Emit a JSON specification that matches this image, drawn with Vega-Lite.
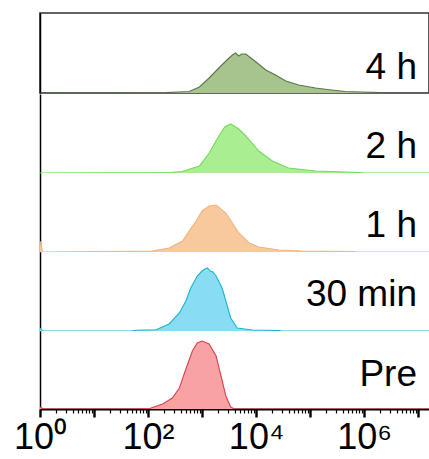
{
  "$schema": "https://vega.github.io/schema/vega-lite/v6.json",
  "padding": {"left": 13, "top": 12, "right": 0, "bottom": 2},
  "background": "white",
  "config": {
    "view": {"stroke": null},
    "axis": {"grid": false},
    "font": "Liberation Sans"
  },
  "spacing": 0,
  "datasets": {
    "hist": [
      {"sample": "Pre", "intensity": 1, "count": 2},
      {"sample": "Pre", "intensity": 1.15, "count": 0},
      {"sample": "Pre", "intensity": 50, "count": 0},
      {"sample": "Pre", "intensity": 107, "count": 0.5},
      {"sample": "Pre", "intensity": 186, "count": 5},
      {"sample": "Pre", "intensity": 282, "count": 11},
      {"sample": "Pre", "intensity": 380, "count": 21},
      {"sample": "Pre", "intensity": 501, "count": 40},
      {"sample": "Pre", "intensity": 661, "count": 58},
      {"sample": "Pre", "intensity": 813, "count": 66},
      {"sample": "Pre", "intensity": 1000, "count": 68},
      {"sample": "Pre", "intensity": 1349, "count": 65},
      {"sample": "Pre", "intensity": 1820, "count": 53},
      {"sample": "Pre", "intensity": 2239, "count": 33},
      {"sample": "Pre", "intensity": 2754, "count": 13},
      {"sample": "Pre", "intensity": 3388, "count": 2},
      {"sample": "Pre", "intensity": 3981, "count": 0},
      {"sample": "Pre", "intensity": 15848932, "count": 0},

      {"sample": "30 min", "intensity": 1, "count": 3},
      {"sample": "30 min", "intensity": 1.12, "count": 0},
      {"sample": "30 min", "intensity": 50, "count": 0},
      {"sample": "30 min", "intensity": 60, "count": 0.7},
      {"sample": "30 min", "intensity": 141, "count": 1.3},
      {"sample": "30 min", "intensity": 245, "count": 7},
      {"sample": "30 min", "intensity": 380, "count": 18},
      {"sample": "30 min", "intensity": 501, "count": 30},
      {"sample": "30 min", "intensity": 617, "count": 43},
      {"sample": "30 min", "intensity": 813, "count": 55},
      {"sample": "30 min", "intensity": 1000, "count": 60},
      {"sample": "30 min", "intensity": 1122, "count": 62},
      {"sample": "30 min", "intensity": 1259, "count": 63},
      {"sample": "30 min", "intensity": 1413, "count": 60},
      {"sample": "30 min", "intensity": 1585, "count": 59},
      {"sample": "30 min", "intensity": 1820, "count": 55},
      {"sample": "30 min", "intensity": 2344, "count": 43},
      {"sample": "30 min", "intensity": 2754, "count": 30},
      {"sample": "30 min", "intensity": 3388, "count": 13},
      {"sample": "30 min", "intensity": 4467, "count": 3},
      {"sample": "30 min", "intensity": 8511, "count": 1},
      {"sample": "30 min", "intensity": 26303, "count": 0.5},
      {"sample": "30 min", "intensity": 30000, "count": 0},
      {"sample": "30 min", "intensity": 15848932, "count": 0},

      {"sample": "1 h", "intensity": 1, "count": 11},
      {"sample": "1 h", "intensity": 1.05, "count": 6},
      {"sample": "1 h", "intensity": 1.12, "count": 0},
      {"sample": "1 h", "intensity": 50, "count": 0.7},
      {"sample": "1 h", "intensity": 120, "count": 1},
      {"sample": "1 h", "intensity": 245, "count": 4},
      {"sample": "1 h", "intensity": 437, "count": 11},
      {"sample": "1 h", "intensity": 575, "count": 21},
      {"sample": "1 h", "intensity": 776, "count": 31},
      {"sample": "1 h", "intensity": 1000, "count": 41},
      {"sample": "1 h", "intensity": 1349, "count": 46},
      {"sample": "1 h", "intensity": 1820, "count": 47},
      {"sample": "1 h", "intensity": 2754, "count": 39},
      {"sample": "1 h", "intensity": 3631, "count": 29},
      {"sample": "1 h", "intensity": 4786, "count": 19},
      {"sample": "1 h", "intensity": 7413, "count": 9},
      {"sample": "1 h", "intensity": 11220, "count": 5},
      {"sample": "1 h", "intensity": 26303, "count": 2},
      {"sample": "1 h", "intensity": 70795, "count": 1},
      {"sample": "1 h", "intensity": 630957, "count": 0.5},
      {"sample": "1 h", "intensity": 700000, "count": 0},
      {"sample": "1 h", "intensity": 15848932, "count": 0},

      {"sample": "2 h", "intensity": 1, "count": 0},
      {"sample": "2 h", "intensity": 251, "count": 0.5},
      {"sample": "2 h", "intensity": 427, "count": 1.5},
      {"sample": "2 h", "intensity": 891, "count": 7},
      {"sample": "2 h", "intensity": 1349, "count": 20},
      {"sample": "2 h", "intensity": 2042, "count": 37},
      {"sample": "2 h", "intensity": 2630, "count": 46},
      {"sample": "2 h", "intensity": 3388, "count": 49},
      {"sample": "2 h", "intensity": 4786, "count": 44},
      {"sample": "2 h", "intensity": 6457, "count": 37},
      {"sample": "2 h", "intensity": 11220, "count": 22},
      {"sample": "2 h", "intensity": 19953, "count": 12},
      {"sample": "2 h", "intensity": 39811, "count": 5},
      {"sample": "2 h", "intensity": 125893, "count": 2},
      {"sample": "2 h", "intensity": 794328, "count": 0.5},
      {"sample": "2 h", "intensity": 1000000, "count": 0},
      {"sample": "2 h", "intensity": 15848932, "count": 0},

      {"sample": "4 h", "intensity": 1, "count": 0},
      {"sample": "4 h", "intensity": 219, "count": 0.5},
      {"sample": "4 h", "intensity": 575, "count": 1.5},
      {"sample": "4 h", "intensity": 891, "count": 6},
      {"sample": "4 h", "intensity": 1349, "count": 15},
      {"sample": "4 h", "intensity": 2042, "count": 25},
      {"sample": "4 h", "intensity": 2884, "count": 33},
      {"sample": "4 h", "intensity": 3631, "count": 38},
      {"sample": "4 h", "intensity": 4169, "count": 40},
      {"sample": "4 h", "intensity": 4786, "count": 37},
      {"sample": "4 h", "intensity": 5370, "count": 39},
      {"sample": "4 h", "intensity": 6457, "count": 39},
      {"sample": "4 h", "intensity": 8000, "count": 35},
      {"sample": "4 h", "intensity": 10000, "count": 31},
      {"sample": "4 h", "intensity": 15136, "count": 23},
      {"sample": "4 h", "intensity": 22909, "count": 18},
      {"sample": "4 h", "intensity": 35481, "count": 12},
      {"sample": "4 h", "intensity": 61660, "count": 8},
      {"sample": "4 h", "intensity": 125893, "count": 5},
      {"sample": "4 h", "intensity": 251189, "count": 3},
      {"sample": "4 h", "intensity": 446684, "count": 1.5},
      {"sample": "4 h", "intensity": 1995262, "count": 0.5},
      {"sample": "4 h", "intensity": 2200000, "count": 0},
      {"sample": "4 h", "intensity": 15848932, "count": 0}
    ]
  },
  "vconcat": [
    {
      "width": 389, "height": 80,
      "view": {"stroke": "#333333", "strokeWidth": 1.6},
      "layer": [
        {
          "data": {"name": "hist"},
          "transform": [{"filter": "datum.sample === '4 h'"}],
          "mark": {"type": "area", "color": "#a8c48d", "clip": true},
          "encoding": {
            "x": {"field": "intensity", "type": "quantitative", "scale": {"type": "log", "domain": [1, 15848932], "nice": false}, "axis": null},
            "y": {"field": "count", "type": "quantitative", "scale": {"domain": [0, 80], "nice": false},
                  "axis": {"labels": false, "ticks": false, "title": null, "domainColor": "black", "domainWidth": 1.5}}
          }
        },
        {
          "data": {"name": "hist"},
          "transform": [{"filter": "datum.sample === '4 h'"}],
          "mark": {"type": "line", "color": "#46643a", "strokeWidth": 1.1, "strokeOpacity": 0.85, "clip": true},
          "encoding": {
            "x": {"field": "intensity", "type": "quantitative"},
            "y": {"field": "count", "type": "quantitative"}
          }
        },
        {
          "data": {"values": [{"label": "4 h"}]},
          "mark": {"type": "text", "align": "right", "baseline": "alphabetic", "fontSize": 37, "color": "black"},
          "encoding": {"text": {"field": "label"}, "x": {"datum": 9500000}, "y": {"datum": 14}}
        }
      ]
    },
    {
      "width": 389, "height": 79,
      "layer": [
        {
          "data": {"name": "hist"},
          "transform": [{"filter": "datum.sample === '2 h'"}],
          "mark": {"type": "area", "color": "#a9ee90", "clip": true},
          "encoding": {
            "x": {"field": "intensity", "type": "quantitative", "scale": {"type": "log", "domain": [1, 15848932], "nice": false}, "axis": null},
            "y": {"field": "count", "type": "quantitative", "scale": {"domain": [0, 79], "nice": false},
                  "axis": {"labels": false, "ticks": false, "title": null, "domainColor": "black", "domainWidth": 1.5}}
          }
        },
        {
          "data": {"name": "hist"},
          "transform": [{"filter": "datum.sample === '2 h'"}],
          "mark": {"type": "line", "color": "#74d95f", "strokeWidth": 1.1, "clip": true},
          "encoding": {
            "x": {"field": "intensity", "type": "quantitative"},
            "y": {"field": "count", "type": "quantitative"}
          }
        },
        {
          "data": {"values": [{"label": "2 h"}]},
          "mark": {"type": "text", "align": "right", "baseline": "alphabetic", "fontSize": 37, "color": "black"},
          "encoding": {"text": {"field": "label"}, "x": {"datum": 9500000}, "y": {"datum": 15}}
        }
      ]
    },
    {
      "width": 389, "height": 79,
      "layer": [
        {
          "data": {"name": "hist"},
          "transform": [{"filter": "datum.sample === '1 h'"}],
          "mark": {"type": "area", "color": "#f8c99c", "clip": true},
          "encoding": {
            "x": {"field": "intensity", "type": "quantitative", "scale": {"type": "log", "domain": [1, 15848932], "nice": false}, "axis": null},
            "y": {"field": "count", "type": "quantitative", "scale": {"domain": [0, 79], "nice": false},
                  "axis": {"labels": false, "ticks": false, "title": null, "domainColor": "black", "domainWidth": 1.5}}
          }
        },
        {
          "data": {"name": "hist"},
          "transform": [{"filter": "datum.sample === '1 h'"}],
          "mark": {"type": "line", "color": "#efb47c", "strokeWidth": 1.1, "clip": true},
          "encoding": {
            "x": {"field": "intensity", "type": "quantitative"},
            "y": {"field": "count", "type": "quantitative"}
          }
        },
        {
          "data": {"values": [{"label": "1 h"}]},
          "mark": {"type": "text", "align": "right", "baseline": "alphabetic", "fontSize": 37, "color": "black"},
          "encoding": {"text": {"field": "label"}, "x": {"datum": 9500000}, "y": {"datum": 15}}
        }
      ]
    },
    {
      "width": 389, "height": 79,
      "layer": [
        {
          "data": {"name": "hist"},
          "transform": [{"filter": "datum.sample === '30 min'"}],
          "mark": {"type": "area", "color": "#88dcf4", "clip": true},
          "encoding": {
            "x": {"field": "intensity", "type": "quantitative", "scale": {"type": "log", "domain": [1, 15848932], "nice": false}, "axis": null},
            "y": {"field": "count", "type": "quantitative", "scale": {"domain": [0, 79], "nice": false},
                  "axis": {"labels": false, "ticks": false, "title": null, "domainColor": "black", "domainWidth": 1.5}}
          }
        },
        {
          "data": {"name": "hist"},
          "transform": [{"filter": "datum.sample === '30 min'"}],
          "mark": {"type": "line", "color": "#1db4ca", "strokeWidth": 1.1, "clip": true},
          "encoding": {
            "x": {"field": "intensity", "type": "quantitative"},
            "y": {"field": "count", "type": "quantitative"}
          }
        },
        {
          "data": {"values": [{"label": "30 min"}]},
          "mark": {"type": "text", "align": "right", "baseline": "alphabetic", "fontSize": 37, "color": "black"},
          "encoding": {"text": {"field": "label"}, "x": {"datum": 9500000}, "y": {"datum": 25}}
        }
      ]
    },
    {
      "width": 389, "height": 78,
      "layer": [
        {
          "data": {"name": "hist"},
          "transform": [{"filter": "datum.sample === 'Pre'"}],
          "mark": {"type": "area", "color": "#f8a2a4", "clip": true},
          "encoding": {
            "x": {"field": "intensity", "type": "quantitative", "scale": {"type": "log", "domain": [1, 15848932], "nice": false},
                  "axis": {
                    "orient": "bottom", "title": null,
                    "values": [1,2,3,4,5,6,7,8,9,10,20,30,40,50,60,70,80,90,100,200,300,400,500,600,700,800,900,1000,2000,3000,4000,5000,6000,7000,8000,9000,10000,20000,30000,40000,50000,60000,70000,80000,90000,100000,200000,300000,400000,500000,600000,700000,800000,900000,1000000,2000000,3000000,4000000,5000000,6000000,7000000,8000000,9000000,10000000],
                    "labelExpr": "datum.value == 1 ? '10⁰' : datum.value == 100 ? '10²' : datum.value == 10000 ? '10⁴' : datum.value == 1000000 ? '10⁶' : ''",
                    "labelFontSize": 36, "labelColor": "black", "labelPadding": 3, "labelFont": "Liberation Sans",
                    "labelOverlap": false, "labelFlush": false, "labelBound": false,
                    "tickColor": "black",
                    "tickSize": {"condition": {"test": "abs(log(datum.value)/LN10 - round(log(datum.value)/LN10)) < 0.000001", "value": 8}, "value": 4},
                    "tickWidth": {"condition": {"test": "abs(log(datum.value)/LN10 - round(log(datum.value)/LN10)) < 0.000001", "value": 2.4}, "value": 1.2},
                    "domainColor": "black", "domainWidth": 2
                  }},
            "y": {"field": "count", "type": "quantitative", "scale": {"domain": [0, 78], "nice": false},
                  "axis": {"labels": false, "ticks": false, "title": null, "domainColor": "black", "domainWidth": 1.5}}
          }
        },
        {
          "data": {"name": "hist"},
          "transform": [{"filter": "datum.sample === 'Pre'"}],
          "mark": {"type": "line", "color": "#dd4050", "strokeWidth": 1.1, "clip": true},
          "encoding": {
            "x": {"field": "intensity", "type": "quantitative"},
            "y": {"field": "count", "type": "quantitative"}
          }
        },
        {
          "data": {"values": [{"label": "Pre"}]},
          "mark": {"type": "text", "align": "right", "baseline": "alphabetic", "fontSize": 37, "color": "black"},
          "encoding": {"text": {"field": "label"}, "x": {"datum": 9500000}, "y": {"datum": 23}}
        }
      ]
    }
  ]
}
